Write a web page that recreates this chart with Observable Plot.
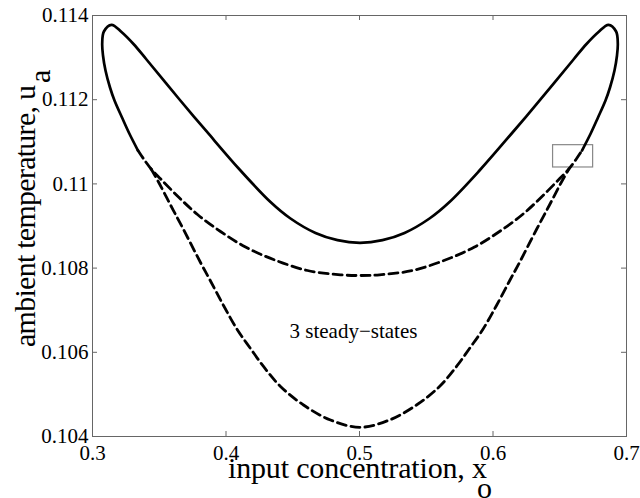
<!DOCTYPE html>
<html><head><meta charset="utf-8">
<script src="https://cdn.jsdelivr.net/npm/d3@7"></script>
<script src="https://cdn.jsdelivr.net/npm/@observablehq/plot@0.6"></script>
<style>body{margin:0;background:#fff}</style>
</head><body><div id="chart"></div>
<script>
// Solid curve (outer loop)
const solidX = [0.33408,0.32757,0.32210,0.31648,0.31311,0.30974,0.30787,0.30727,0.30854,0.31423,0.32172,0.33071,0.34045,0.36517,0.38614,0.41086,0.43333,0.44831,0.46704,0.48352,0.50037,0.51723,0.53371,0.55243,0.56742,0.58989,0.61461,0.63558,0.66030,0.67004,0.67903,0.68652,0.69221,0.69348,0.69288,0.69101,0.68764,0.68427,0.67865,0.67318,0.66667];
const solidY = [0.110793,0.111197,0.111577,0.111981,0.112290,0.112694,0.113050,0.113335,0.113620,0.113779,0.113608,0.113323,0.112955,0.112005,0.111221,0.110318,0.109570,0.109178,0.108834,0.108663,0.108601,0.108663,0.108834,0.109178,0.109570,0.110318,0.111221,0.112005,0.112955,0.113323,0.113608,0.113779,0.113620,0.113335,0.113050,0.112694,0.112290,0.111981,0.111577,0.111197,0.110793];
// Dashed curve, middle branch
const dashAX = [0.33408,0.33858,0.34382,0.35094,0.36442,0.37865,0.39588,0.41461,0.43558,0.46105,0.48577,0.50037,0.51498,0.53970,0.56517,0.58614,0.60487,0.62210,0.63633,0.64981,0.65693,0.66217,0.66667];
const dashAY = [0.110793,0.110580,0.110359,0.110121,0.109689,0.109273,0.108869,0.108501,0.108204,0.107943,0.107841,0.107824,0.107841,0.107943,0.108204,0.108501,0.108869,0.109273,0.109689,0.110121,0.110359,0.110580,0.110793];
// Dashed curve, lower branch
const dashBX = [0.34382,0.34944,0.35843,0.36816,0.38090,0.38839,0.39813,0.40861,0.41835,0.42809,0.44082,0.45805,0.47828,0.50037,0.52247,0.54270,0.55993,0.57266,0.58240,0.59213,0.60262,0.61236,0.61985,0.63258,0.64232,0.65131,0.65693];
const dashBY = [0.110359,0.110045,0.109499,0.108917,0.108133,0.107694,0.107112,0.106530,0.106090,0.105663,0.105188,0.104748,0.104392,0.104219,0.104392,0.104748,0.105188,0.105663,0.106090,0.106530,0.107112,0.107694,0.108133,0.108917,0.109499,0.110045,0.110359];
// Small box
const boxX = [0.645, 0.675];
const boxY = [0.11039, 0.11092];
// Annotation
const noteText = "3 steady\u2212states";
const noteX = 0.4955, noteY = 0.10650;
// Ticks
const xTicks = [0.3,0.4,0.5,0.6,0.7];
const xTickLabels = ["0.3","0.4","0.5","0.6","0.7"];
const yTicks = [0.104,0.106,0.108,0.110,0.112,0.114];
const yTickLabels = ["0.104","0.106","0.108","0.11","0.112","0.114"];

const toRows = (xs, ys) => xs.map((x, i) => ({x, y: ys[i]}));
const solid = toRows(solidX, solidY);
const dashA = toRows(dashAX, dashAY);
const dashB = toRows(dashBX, dashBY);

const FONT = "Liberation Serif, Times New Roman, serif";
const W = 640, H = 498, mT = 15, mR = 14, mB = 62, mL = 92;
const pw = W - mL - mR, ph = H - mT - mB;
const tk = 5, grey = "#666";

const svg = Plot.plot({
  width: W, height: H,
  marginTop: mT, marginRight: mR, marginBottom: mB, marginLeft: mL,
  style: {fontFamily: FONT, fontSize: "21px", color: "#000", background: "#fff"},
  x: {domain: [0.3, 0.7]},
  y: {domain: [0.104, 0.114]},
  marks: [
    Plot.tickX(xTicks, {x: d => d, insetTop: ph - tk, stroke: grey}),
    Plot.tickX(xTicks, {x: d => d, insetBottom: ph - tk, stroke: grey}),
    Plot.tickY(yTicks, {y: d => d, insetRight: pw - tk, stroke: grey}),
    Plot.tickY(yTicks, {y: d => d, insetLeft: pw - tk, stroke: grey}),
    Plot.frame({stroke: grey, strokeWidth: 1}),
    Plot.axisX({ticks: xTicks, tickSize: 0, tickPadding: 9, label: null, fill: "#000",
      fontFamily: FONT, fontSize: 21,
      tickFormat: d => xTickLabels[xTicks.indexOf(d)]}),
    Plot.axisY({ticks: yTicks, tickSize: 0, tickPadding: 4, label: null, fill: "#000",
      fontFamily: FONT, fontSize: 21,
      tickFormat: d => yTickLabels[yTicks.indexOf(d)]}),
    Plot.rect([0], {x1: () => boxX[0], x2: () => boxX[1], y1: () => boxY[0], y2: () => boxY[1], fill: "none", stroke: "#888", strokeWidth: 1.2}),
    Plot.line(dashB, {x: "x", y: "y", curve: "catmull-rom", stroke: "#000", strokeWidth: 2.8, strokeDasharray: "9,5"}),
    Plot.line(dashA, {x: "x", y: "y", curve: "catmull-rom", stroke: "#000", strokeWidth: 2.8, strokeDasharray: "9,5"}),
    Plot.line(solid, {x: "x", y: "y", curve: "catmull-rom", stroke: "#000", strokeWidth: 2.7}),
    Plot.text([noteText], {x: () => noteX, y: () => noteY, text: d => d, fontSize: 21, fontFamily: FONT, fill: "#000"})
  ]
});

const s = d3.select(svg);
function label(x, y, rot, str, len) {
  const t = s.append("text")
    .attr("transform", `translate(${x},${y})` + (rot ? " rotate(-90)" : ""))
    .attr("font-family", FONT).attr("font-size", 30).attr("fill", "#000")
    .attr("text-anchor", "start").text(str);
  if (len) t.attr("textLength", len).attr("lengthAdjust", "spacing");
  return t;
}
label(228, 478, false, "input concentration, x", 259);
label(477, 498, false, "o");
label(35, 347, true, "ambient temperature, u", 262);
label(50, 83, true, "a");

document.getElementById("chart").appendChild(svg);
</script>
</body></html>
